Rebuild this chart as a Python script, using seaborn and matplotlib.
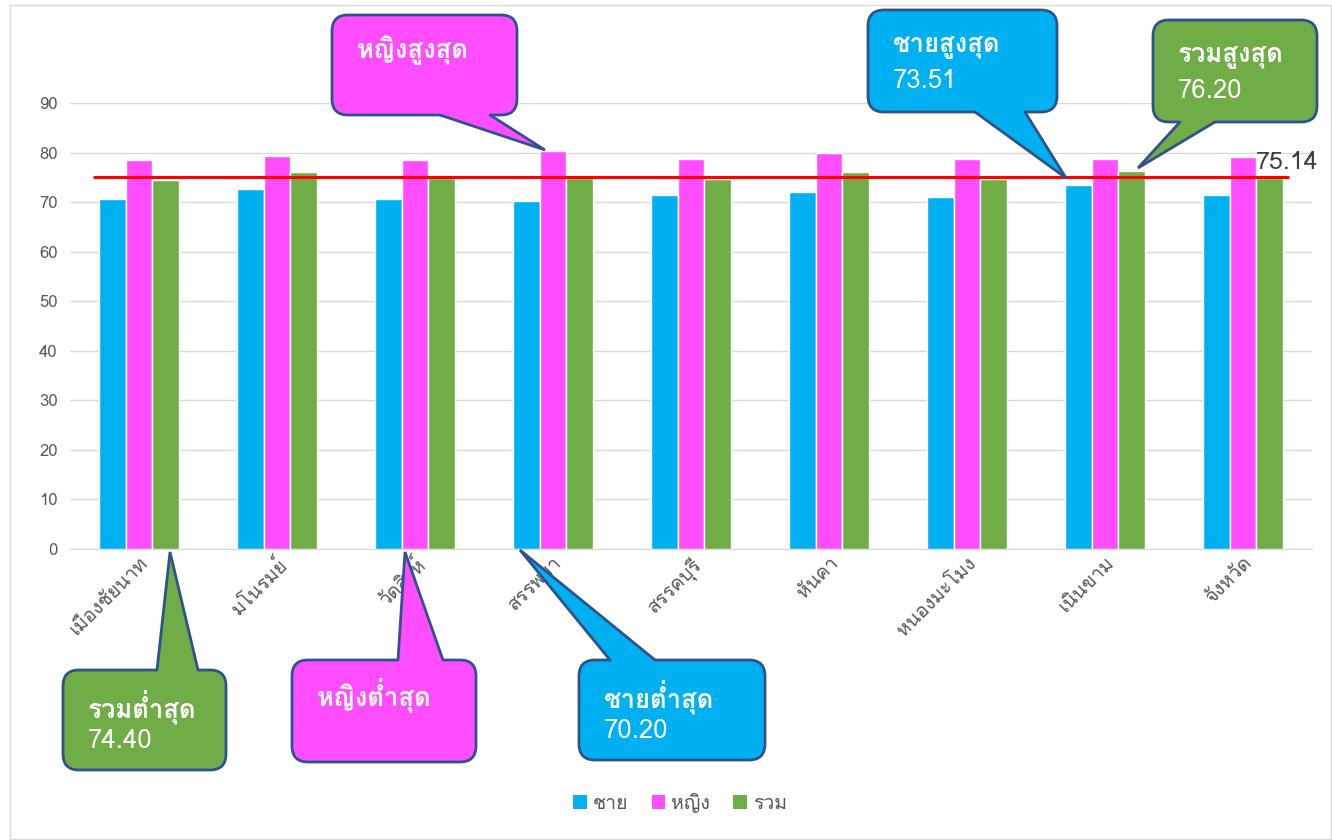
import pandas as pd
import numpy as np
import seaborn as sns
from matplotlib import pyplot as plt
from matplotlib import font_manager, ft2font
from matplotlib.patches import FancyBboxPatch, Polygon, Rectangle

## DATA ##
districts = ['เมืองชัยนาท', 'มโนรมย์', 'วัดสิงห์', 'สรรพยา', 'สรรคบุรี',
             'หันคา', 'หนองมะโมง', 'เนินขาม', 'จังหวัด']
male = [70.7, 72.7, 70.7, 70.20, 71.4, 72.1, 71.1, 73.51, 71.4]
female = [78.4, 79.4, 78.4, 80.4, 78.7, 80.0, 78.7, 78.7, 79.1]
total = [74.40, 76.0, 74.9, 74.9, 74.7, 76.0, 74.7, 76.20, 74.9]
series_names = ['ชาย', 'หญิง', 'รวม']
avg_total = 75.14
yticks = [0, 10, 20, 30, 40, 50, 60, 70, 80, 90]

colors = ['#00B0F0', '#FF4DFF', '#70AD47']

## FONT (need a family with Thai glyphs) ##
sns.set_style("white")
thai_font = None
for f in font_manager.fontManager.ttflist:
    try:
        if 0x0E01 in ft2font.FT2Font(f.fname).get_charmap():
            thai_font = f.name
            break
    except Exception:
        pass
if thai_font:
    plt.rcParams['font.family'] = [thai_font, 'DejaVu Sans']
else:
    plt.rcParams['font.family'] = ['DejaVu Sans']

df = pd.DataFrame({'district': districts * 3,
                   'sex': [series_names[0]] * 9 + [series_names[1]] * 9 + [series_names[2]] * 9,
                   'value': male + female + total})

fig = plt.figure(figsize=(13.32, 8.4), dpi=100)
W, H = 1332, 840
ax = fig.add_axes([70 / W, 1 - 549 / H, (1312 - 70) / W, (549 - 103) / H])

sns.barplot(data=df, x='district', y='value', hue='sex', palette=colors,
            width=0.58, saturation=1, gap=0, ax=ax, legend=False)
ax.set_ylim(0, 90)
ax.set_xlim(-0.5, 8.5)
ax.set_yticks(yticks)
ax.yaxis.grid(True, color='#D9D9D9', linewidth=1)
ax.set_axisbelow(True)
sns.despine(ax=ax, left=True, top=True, right=True)
ax.spines['bottom'].set_color('#D9D9D9')
ax.tick_params(axis='both', length=0, colors='#595959', labelsize=12)
ax.tick_params(axis='y', pad=9)
ax.set_xlabel('')
ax.set_ylabel('')
for lab in ax.get_xticklabels():
    lab.set_rotation(45)
    lab.set_ha('right')
    lab.set_rotation_mode('anchor')
    lab.set_fontsize(14)

# average line of total
ax.hlines(avg_total, -0.33, 8.33, color='#FF0000', linewidth=2.2, zorder=5)
ax.text(8.09, 77.9, '%.2f' % avg_total, ha='left', va='center',
        fontsize=18, color='#404040')

# legend
handles = [Rectangle((0, 0), 1, 1, fc=c, ec='none') for c in colors]
fig.legend(handles, series_names, loc='center', ncol=3, frameon=False,
           bbox_to_anchor=(680 / W, 1 - 803 / H), fontsize=14, labelcolor='#595959',
           handlelength=0.7, handleheight=0.7, handletextpad=0.3, columnspacing=1.2)

## CALLOUTS (pixel coords overlay) ##
ov = fig.add_axes([0, 0, 1, 1], facecolor='none')
ov.set_xlim(0, W)
ov.set_ylim(H, 0)
ov.axis('off')
ov.add_patch(Rectangle((10, 5), W - 11, H - 6, fill=False, ec='#D9D9D9', lw=1))

edge = '#2F528F'

def callout(box, base, tip, color, title, value=None):
    x0, y0, x1, y1 = box
    ov.add_patch(FancyBboxPatch((x0, y0), x1 - x0, y1 - y0,
                                boxstyle='round,pad=0,rounding_size=16',
                                fc=color, ec=edge, lw=2, zorder=2))
    by = y1 if tip[1] > y1 else y0
    inner = -4 if by == y1 else 4
    ov.add_patch(Polygon([(base[0], by + inner), (base[0], by), tip, (base[1], by),
                          (base[1], by + inner)], closed=True, fc=color, ec='none', zorder=3))
    ov.plot([base[0], tip[0], base[1]], [by, tip[1], by], color=edge, lw=2,
            zorder=4, solid_joinstyle='miter')
    tx = x0 + 25
    if value is None:
        ov.text(tx, y0 + 35, title, color='white', fontsize=18.5, fontweight='bold',
                va='center', ha='left', zorder=5)
    else:
        ov.text(tx, y0 + 37, title, color='white', fontsize=18.5, fontweight='bold',
                va='center', ha='left', zorder=5)
        ov.text(tx, y0 + 71, value, color='white', fontsize=18.5,
                va='center', ha='left', zorder=5)

callout((332, 15, 517, 115), (440, 490), (545, 150), colors[1], 'หญิงสูงสุด')
callout((868, 10, 1057, 112), (975, 1025), (1066, 178), colors[0], 'ชายสูงสุด', '73.51')
callout((1153, 20, 1317, 122), (1180, 1215), (1138, 168), colors[2], 'รวมสูงสุด', '76.20')
callout((63, 670, 226, 770), (157, 198), (170, 552), colors[2], 'รวมต่ำสุด', '74.40')
callout((292, 660, 476, 762), (398, 443), (405, 552), colors[1], 'หญิงต่ำสุด')
callout((579, 660, 765, 760), (610, 655), (520, 550), colors[0], 'ชายต่ำสุด', '70.20')

fig.savefig('out.png', dpi=100)
